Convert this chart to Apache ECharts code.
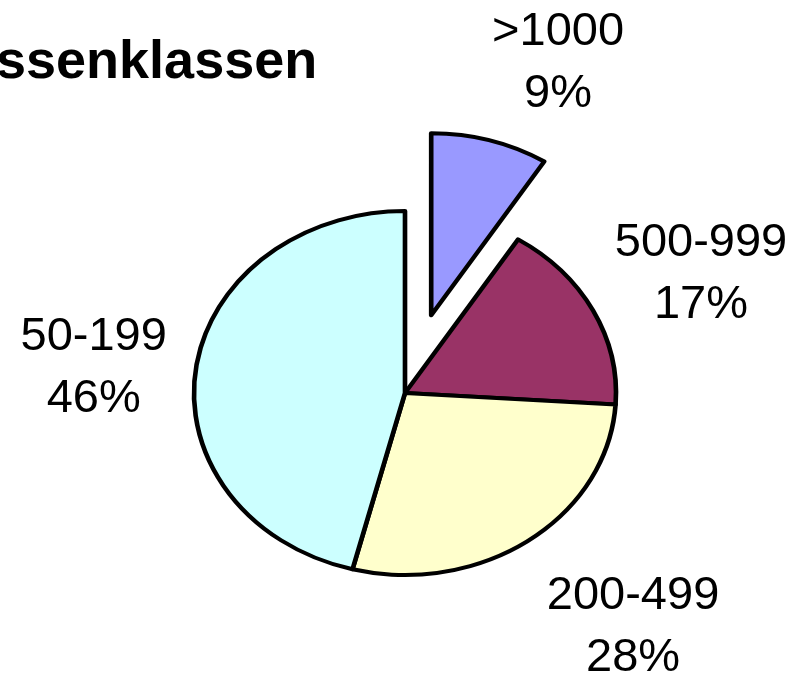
<!DOCTYPE html>
<html>
<head>
<meta charset="utf-8">
<script src="https://cdn.jsdelivr.net/npm/echarts@6/dist/echarts.min.js"></script>
<style>
  html, body { margin: 0; padding: 0; background: #fff; }
  #chart { width: 794px; height: 679px; }
</style>
</head>
<body>
<div id="chart"></div>
<script>
// data
const categories = ['>1000', '500-999', '200-499', '50-199']
const shares = [9, 17, 28, 46]
const exploded = [true, false, false, false]

// styles / layout
const sliceColors = ['#9999ff', '#993366', '#ffffcc', '#ccffff']
const center = [405, 393]
const radiusY = 182
const stretchX = 211 / 182 // the original pie is an ellipse
const explodeDist = 81
// label centre relative to the outer arc point of each slice
const labelShift = [[68, -77], [108, -36], [104, 87], [-102, -2]]

const total = shares.reduce((a, b) => a + b, 0)

const chart = echarts.init(document.getElementById('chart'))

const renderSlice = (params, api) => {
  const i = params.dataIndex
  const before = shares.slice(0, i).reduce((a, b) => a + b, 0)
  const a0 = -Math.PI / 2 + (before / total) * Math.PI * 2
  const a1 = a0 + (api.value(1) / total) * Math.PI * 2
  const mid = (a0 + a1) / 2
  const off = exploded[i] ? explodeDist : 0
  const ox = center[0] + Math.cos(mid) * off * stretchX
  const oy = center[1] + Math.sin(mid) * off
  const px = ox + Math.cos(mid) * radiusY * stretchX
  const py = oy + Math.sin(mid) * radiusY
  return {
    type: 'group',
    children: [
      {
        type: 'sector',
        x: ox,
        y: oy,
        scaleX: stretchX,
        shape: { cx: 0, cy: 0, r: radiusY, r0: 0, startAngle: a0, endAngle: a1, clockwise: true },
        style: { fill: sliceColors[i], stroke: '#000', lineWidth: 4, lineJoin: 'round' }
      },
      {
        type: 'text',
        x: px + labelShift[i][0],
        y: py + labelShift[i][1],
        style: {
          text: categories[i] + '\n' + api.value(1) + '%',
          fill: '#000',
          font: '47px "Liberation Sans", Arial, sans-serif',
          lineHeight: 62,
          align: 'center',
          verticalAlign: 'middle'
        }
      }
    ]
  }
}

chart.setOption({
  animation: false,
  title: {
    text: 'ssenklassen',
    left: -4,
    top: 36,
    padding: 0,
    textStyle: {
      fontFamily: '"Liberation Sans", Arial, sans-serif',
      fontSize: 54,
      fontWeight: 'bold',
      color: '#000'
    }
  },
  series: [
    {
      type: 'custom',
      coordinateSystem: 'none',
      renderItem: renderSlice,
      data: categories.map((c, i) => [i, shares[i]])
    }
  ]
})
</script>
</body>
</html>
